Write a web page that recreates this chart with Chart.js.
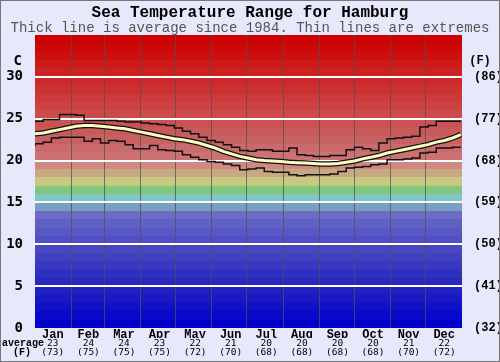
<!DOCTYPE html>
<html>
<head>
<meta charset="utf-8">
<script src="https://cdn.jsdelivr.net/npm/chart.js@4.4.0/dist/chart.umd.min.js"></script>
<style>
  html, body { margin: 0; padding: 0; background: #e8e8fc; }
  #wrap { width: 500px; height: 362px; position: relative; }
</style>
</head>
<body>
<div id="wrap"><canvas id="seaChart"></canvas></div>
<script>
// =========================
// DATA
// =========================
const months = ["Jan", "Feb", "Mar", "Apr", "May", "Jun", "Jul", "Aug", "Sep", "Oct", "Nov", "Dec"];
const monthAvgC = [23, 24, 24, 23, 22, 21, 20, 20, 20, 20, 21, 22];
const monthAvgF = [73, 75, 75, 75, 72, 70, 68, 68, 68, 68, 70, 72];
const monthStarts = [31, 59, 90, 120, 151, 181, 212, 243, 273, 304, 334];

// day of year, one point a week
const days = [0, 7, 14, 21, 28, 35, 42, 49, 56, 63, 70, 77, 84, 91, 98, 105, 112, 119, 126, 133,
    140, 147, 154, 161, 168, 175, 182, 189, 196, 203, 210, 217, 224, 231, 238, 245, 252, 259,
    266, 273, 280, 287, 294, 301, 308, 315, 322, 329, 336, 343, 350, 357, 364];

const avgTemp = [23.2, 23.3, 23.5, 23.7, 23.9, 24.1, 24.2, 24.2, 24.1, 24.0, 23.9, 23.8, 23.6,
    23.4, 23.2, 23.0, 22.8, 22.6, 22.5, 22.3, 22.1, 21.8, 21.5, 21.1, 20.8, 20.5, 20.3, 20.1,
    20.0, 19.95, 19.9, 19.8, 19.75, 19.7, 19.65, 19.6, 19.6, 19.65, 19.8, 19.95, 20.2, 20.4,
    20.6, 20.9, 21.1, 21.3, 21.5, 21.7, 21.9, 22.2, 22.4, 22.7, 23.1];

const maxTemp = [24.6, 24.7, 24.9, 24.9, 25.5, 25.5, 25.4, 24.8, 24.8, 24.8, 24.8, 24.7, 24.6,
    24.6, 24.5, 24.4, 24.3, 24.2, 23.9, 23.5, 23.2, 22.8, 22.4, 22.2, 21.9, 21.6, 21.2, 21.1,
    21.3, 21.3, 21.1, 21.1, 21.5, 20.7, 20.6, 20.5, 20.5, 20.6, 20.6, 21.3, 21.6, 21.4, 21.2,
    22.1, 22.6, 22.7, 22.8, 22.9, 24.0, 24.2, 24.7, 24.7, 24.7];

const minTemp = [21.7, 22.0, 22.2, 22.7, 22.8, 22.8, 22.8, 22.3, 22.6, 22.1, 22.4, 22.3, 21.9,
    21.4, 21.4, 21.8, 21.3, 21.2, 21.1, 20.7, 20.4, 20.1, 19.9, 19.8, 19.6, 19.4, 18.9, 19.0,
    19.1, 18.7, 18.6, 18.6, 18.3, 18.2, 18.3, 18.3, 18.3, 18.4, 18.7, 19.1, 19.2, 19.3, 19.5,
    19.6, 20.1, 20.1, 20.2, 20.3, 20.9, 21.0, 21.5, 21.5, 21.6];

// one colour per degree, 0C at the bottom
const bandColours = [
    "#0000c8", "#0808c8", "#1010c8", "#1818c4", "#2020c4", "#2828c0", "#3030c0", "#3838c0",
    "#4040c0", "#4848c0", "#5050c4", "#5858c4", "#6060c4", "#6c6cc4", "#78a0c4",
    "#80c8c8", "#80c880", "#c8c880", "#c8a880", "#d08880",
    "#cc7272", "#ca6a6a", "#c86262", "#c85a5a", "#cc5252", "#cc4a4a", "#cc4242", "#cc3a3a",
    "#cc3232", "#cc2a2a", "#cc2222", "#cc1a1a", "#cc1010", "#cc0808", "#cc0000"
];

function pts(arr) {
    return days.map((d, i) => ({ x: d, y: arr[i] }));
}

// =========================
// PLUGINS
// =========================
const bandPlugin = {
    id: "bands",
    beforeDraw(chart) {
        const { ctx, chartArea: a, scales: { y } } = chart;
        ctx.save();
        ctx.fillStyle = "#e8e8fc";
        ctx.fillRect(0, 0, chart.width, chart.height);
        bandColours.forEach((c, i) => {
            const top = Math.round(y.getPixelForValue(i + 1));
            const bot = Math.round(y.getPixelForValue(i));
            ctx.fillStyle = c;
            ctx.fillRect(a.left, top, a.right - a.left, bot - top);
        });
        ctx.restore();
    }
};

const extraLabels = {
    id: "extraLabels",
    afterDraw(chart) {
        const { ctx, scales: { y } } = chart;
        ctx.save();
        ctx.fillStyle = "#000";
        ctx.textBaseline = "middle";
        const yc = y.getPixelForValue(31.9);
        ctx.font = "bold 14px 'DejaVu Sans Mono'";
        ctx.textAlign = "right";
        ctx.fillText("C", 22, yc);
        ctx.font = "bold 12px 'Liberation Mono'";
        ctx.textAlign = "center";
        ctx.fillText("(F)", 480, yc);

        ctx.font = "bold 10px 'Liberation Mono'";
        ctx.textAlign = "left";
        ctx.fillText("average", 2, 343);
        ctx.textAlign = "center";
        ctx.fillText("(F)", 22, 352);

        ctx.strokeStyle = "#777";
        ctx.lineWidth = 1;
        ctx.strokeRect(0.5, 0.5, chart.width - 1, chart.height - 1);
        ctx.restore();
    }
};

// =========================
// CHART
// =========================
const labelAxis = (labels, font, weight, height) => ({
    type: "category",
    labels: labels,
    offset: true,
    position: "bottom",
    weight: weight,
    grid: { display: false, drawTicks: false },
    border: { display: false },
    ticks: { font: font, color: "#000", padding: 0, maxRotation: 0, autoSkip: false },
    afterFit: s => { s.height = height; }
});

new Chart(document.getElementById("seaChart"), {
    type: "line",
    data: {
        datasets: [
            { data: pts(avgTemp), borderColor: "#fdfcc0", borderWidth: 3, order: 0 },
            { data: pts(avgTemp), borderColor: "#111", borderWidth: 5.5, order: 1 },
            { data: pts(maxTemp), borderColor: "#111", borderWidth: 1.5, stepped: "after", order: 2 },
            { data: pts(minTemp), borderColor: "#111", borderWidth: 1.5, stepped: "after", order: 3 }
        ]
    },
    options: {
        responsive: true,
        maintainAspectRatio: false,
        animation: false,
        layout: { padding: 0 },
        elements: { point: { radius: 0 }, line: { tension: 0 } },
        plugins: {
            legend: { display: false },
            tooltip: { enabled: false },
            title: {
                display: true,
                text: "Sea Temperature Range for Hamburg",
                color: "#000",
                font: { family: "Liberation Mono", size: 16, weight: "bold", lineHeight: 1 },
                padding: { top: 5, bottom: 0 }
            },
            subtitle: {
                display: true,
                text: "Thick line is average since 1984. Thin lines are extremes",
                color: "#555",
                font: { family: "Liberation Mono", size: 14, lineHeight: 1 },
                padding: { top: 0, bottom: 0 }
            }
        },
        scales: {
            x: {
                type: "linear",
                min: 0,
                max: 365,
                afterBuildTicks: s => { s.ticks = monthStarts.map(v => ({ value: v })); },
                ticks: { display: false },
                grid: { color: "rgba(80,80,80,0.75)", lineWidth: 1, drawTicks: false },
                border: { display: false },
                afterFit: s => { s.height = 0; }
            },
            xMon: labelAxis(months, { family: "Liberation Mono", size: 12, weight: "bold" }, 1, 10),
            xC: labelAxis(monthAvgC.map(String), { family: "DejaVu Sans Mono", size: 9.5 }, 2, 9),
            xF: labelAxis(monthAvgF.map(v => "(" + v + ")"), { family: "DejaVu Sans Mono", size: 9.5 }, 3, 15),
            y: {
                min: 0,
                max: 35,
                ticks: {
                    stepSize: 5,
                    callback: v => (v <= 30 ? v : ""),
                    padding: 12,
                    color: "#000",
                    font: { family: "DejaVu Sans Mono", size: 14, weight: "bold" }
                },
                grid: {
                    color: c => (c.tick.value > 0 && c.tick.value < 35 ? "#fff" : "rgba(0,0,0,0)"),
                    lineWidth: 2,
                    drawTicks: false
                },
                border: { display: false },
                afterFit: s => { s.width = 35; }
            },
            y2: {
                position: "right",
                min: 0,
                max: 35,
                ticks: {
                    stepSize: 5,
                    callback: v => (v <= 30 ? "(" + Math.round(v * 9 / 5 + 32) + ")" : ""),
                    padding: 4,
                    color: "#000",
                    font: { family: "Liberation Mono", size: 12, weight: "bold" }
                },
                grid: { display: false },
                border: { display: false },
                afterFit: s => { s.width = 38; }
            }
        }
    },
    plugins: [bandPlugin, extraLabels]
});
</script>
</body>
</html>
